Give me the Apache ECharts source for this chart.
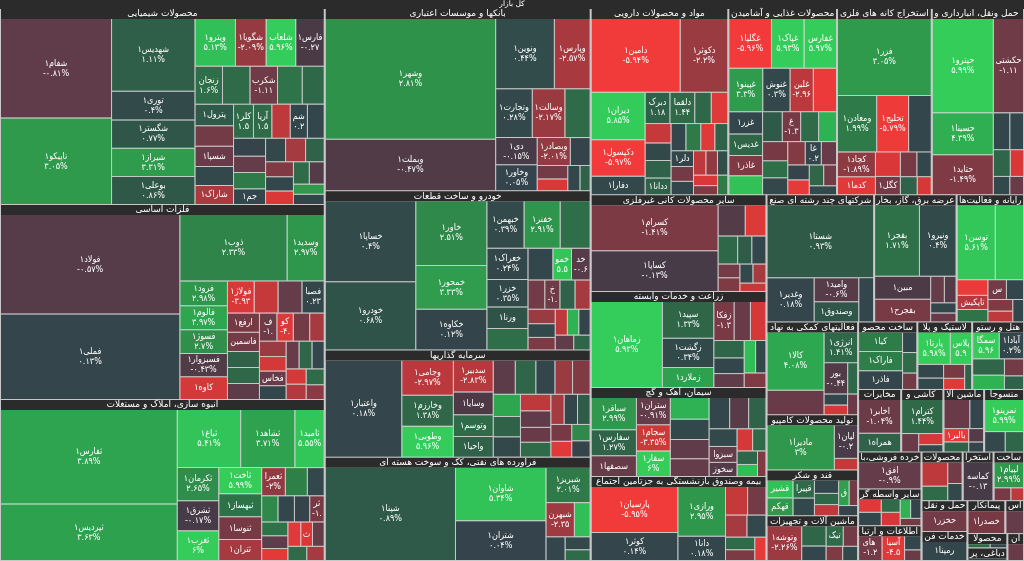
<!DOCTYPE html>
<html lang="fa">
<head>
<meta charset="utf-8">
<title>نقشه بازار</title>
<script src="https://cdn.jsdelivr.net/npm/echarts/dist/echarts.min.js"></script>
<style>
  html, body { margin: 0; padding: 0; background: #c8c8c8; }
  #chart { width: 1024px; height: 561px; }
</style>
</head>
<body>
<div id="chart"></div>
<script>
// [نماد, اندازه, درصد تغییر] - اندازه ها از روی تصویر تخمین زده شده
var chemicals = [
  ['شفام۱', 10584, -0.81], ['تاپیکو۱', 9180, 3.05], ['شهدیس۱', 5800, 1.11], ['توری۱', 2300, 0.4],
  ['شگستر۱', 2260, 0.77], ['شیراز۱', 2250, 3.31], ['بوعلی۱', 2240, 0.86], ['ویترو۱', 1845, 5.13],
  ['شگویا۱', 1400, -2.09], ['شلعاب۱', 1350, 5.96], ['فارس۱', 1300, -0.27], ['شکربن۱', 1000, -1.11],
  ['', 1000, 1.5], ['زنجان۱', 1000, 1.6], ['', 900, 1.8], ['پترول۱', 800, 0.9], ['', 800, 1.4],
  ['شسپا۱', 750, -1.0], ['', 750, -1.2], ['شاراک۱', 700, -2.6], ['', 700, 0.3], ['کلر۱', 650, 1.5],
  ['', 600, -3], ['آریا۱', 600, 1.5], ['شمواد۱', 560, 0.2], ['', 550, 0.1], ['', 550, 0.2],
  ['', 500, 2], ['', 500, -0.9], ['جم۱', 480, 0.2], ['', 450, -2.5], ['', 450, 0.3], ['', 420, 1.2],
  ['', 400, -1.5], ['', 380, 0.2], ['', 360, -4], ['', 340, 1.5], ['', 320, -0.5], ['', 300, 0.1],
  ['', 300, 3]
];
var metals = [
  ['فولاد۱', 17444, -0.57], ['فملی۱', 14952, 0.13], ['ذوب۱', 6955, 2.33], ['وسدید۱', 2405, 2.97],
  ['فرود۱', 1150, 2.98], ['فالوم۱', 1120, 3.97], ['فسوژ۱', 1100, 2.7], ['فسبزوار۱', 1080, -0.43],
  ['کاوه۱', 1060, -3.6], ['فولاژ۱', 841, -3.93], ['فاسمین۱', 600, -1.2], ['ارفع۱', 600, -1.3],
  ['فسپا۱', 480, -1.1], ['فخاس۱', 380, -1.0], ['', 360, 0.2], ['', 750, -0.9], ['', 750, -3.2],
  ['فصبا۱', 700, 0.23], ['', 500, -0.7], ['', 500, 1.4], ['', 500, 1.2], ['', 450, -1.2],
  ['کویر۱', 450, -4.2], ['', 400, -2.2], ['', 400, -2.5], ['', 380, -3.5], ['', 350, 1.3],
  ['', 350, -1.0], ['', 330, 0.2], ['', 300, -2.8], ['', 300, -3.5], ['', 280, 1.5], ['', 260, -1.8]
];
var realEstate = [
  ['ثفارس۱', 17500, 3.89], ['ثپردیس۱', 10500, 3.63], ['ثباغ۱', 3864, 5.41], ['ثشاهد۱', 3304, 3.71],
  ['ثامید۱', 1792, 5.55], ['ثکرمان۱', 1440, 2.65], ['ثشرق۱', 1305, -0.17], ['ثغرب۱', 1300, 6],
  ['ثاخت۱', 1175, 5.99], ['ثبهساز۱', 1034, 1.72], ['ثنوسا۱', 1030, -1.3], ['ثتران۱', 940, -2.5],
  ['ثعمرا۱', 700, -2.0], ['', 650, 2.2], ['', 500, 0.3], ['', 450, 0.2], ['', 450, 2.5],
  ['', 420, 0.1], ['ثرود۱', 400, -1.3], ['', 380, 1.8], ['', 350, -0.8], ['', 330, -4.5],
  ['', 330, -4.8], ['', 300, -0.9], ['ثتوسا۱', 300, -4], ['', 280, 1.5], ['', 260, -2.5]
];
var banks = [
  ['وشهر۱', 20040, 2.81], ['وبملت۱', 8517, -0.47], ['ونوین۱', 4012, 0.44], ['وپارس۱', 2448, -2.57],
  ['وتجارت۱', 1739, 0.28], ['وسالت۱', 1551, -2.17], ['', 1200, 1.5], ['دی۱', 1100, -0.15],
  ['وخاور۱', 1050, 0.05], ['وبصادر۱', 900, -2.01], ['', 540, 0.1], ['', 400, -1.2], ['', 350, -4.0],
  ['', 300, 0.2], ['', 250, 1.2]
];
var autos = [
  ['خساپا۱', 7462, 0.4], ['خودرو۱', 6279, 0.68], ['خاور۱', 4680, 2.51], ['خمحور۱', 3168, 3.33],
  ['خکاوه۱', 2952, 0.12], ['خبهمن۱', 1800, 0.39], ['خفنر۱', 1750, 2.91], ['', 1450, 1.6],
  ['خعراک۱', 1300, 0.24], ['خزر۱', 1150, 0.35], ['', 900, 1.6], ['ورنا۱', 900, 0.69], ['', 800, 0.2],
  ['خدیزل۱', 600, -0.6], ['خموتور۱', 600, 5.5], ['', 500, -1.2], ['', 450, -2.5], ['', 450, 1.2],
  ['خشرق۱', 450, -1.1], ['', 400, -2.2], ['', 380, 0.3], ['', 350, -1.4], ['', 320, -3.0],
  ['', 300, 0.1], ['', 300, 4.5], ['', 280, -0.8], ['', 250, 1.3]
];
var investments = [
  ['واعتبار۱', 7392, 0.18], ['وجامی۱', 1802, -2.97], ['وخارزم۱', 1600, 1.38], ['وطوبی۱', 1580, 5.96],
  ['سدبیر۱', 1271, -2.83], ['وسایا۱', 902, -0.39], ['وتوسم۱', 861, 1.5], ['واحیا۱', 820, 1.2],
  ['', 750, -0.7], ['', 700, 1.3], ['', 650, 0.2], ['', 600, 4.0], ['', 600, -1.5], ['', 600, -2.2],
  ['', 550, 0.3], ['', 550, 1.2], ['', 500, -0.8], ['', 500, -3], ['', 450, 1.5], ['', 450, -1.0],
  ['', 400, 0.2], ['', 400, -2.5], ['', 380, 1.0], ['', 350, -1.3], ['', 330, -4.5], ['', 300, 0.1],
  ['', 300, 2.5]
];
var petroleum = [
  ['شپنا۱', 11264, 0.89], ['شاوان۱', 4500, 5.34], ['شتران۱', 3330, 0.04], ['شبریز۱', 1452, 2.01],
  ['شبهرن۱', 900, -2.35], ['', 500, 5.0], ['', 420, 0.2], ['', 300, 0.3], ['', 250, 1.5]
];
var pharma = [
  ['دامین۱', 6512, -5.94], ['دکوثر۱', 3478, -2.2], ['دیران۱', 2538, 5.85], ['دکپسول۱', 1944, -5.97],
  ['دفارا۱', 1000, 0.3], ['دلقما۱', 768, 1.44], ['دبرکت۱', 768, 1.18], ['', 512, -4.5], ['', 512, 1.4],
  ['ددانا۱', 432, 1.2], ['', 400, 2.0], ['دلر۱', 350, 0.2], ['', 500, -3.2], ['', 450, 1.2],
  ['', 450, 0.3], ['', 400, 0.2], ['', 380, -4.5], ['', 350, 1.2], ['', 330, -1.2], ['', 300, -3],
  ['', 300, 0.2], ['', 280, -2], ['', 250, -4], ['', 250, 0.5], ['', 220, -1.5], ['', 200, 2]
];
var food = [
  ['غگلپا۱', 1974, -5.96], ['غپاک۱', 1510, 5.93], ['غفارس۱', 1500, 5.97], ['غپینو۱', 1376, 3.3],
  ['غنوش۱', 1107, 0.3], ['غلبن۱', 943, -2.96], ['', 940, -5.5], ['غزر۱', 704, 0.21],
  ['غدیس۱', 672, 1.33], ['غاذر۱', 640, -1.5], ['', 600, 5.2], ['', 550, 0.9], ['غشوکو۱', 512, -1.3],
  ['', 500, 4.5], ['', 500, 1.5], ['', 450, -1.3], ['', 400, 0.3], ['', 400, 1.6], ['', 380, -1.6],
  ['غالبر۱', 350, 0.2], ['', 330, -1.0], ['', 300, -5], ['', 300, 0.1], ['', 280, 1.3],
  ['', 250, -1.2], ['', 230, 0.3]
];
var mining = [
  ['فزر۱', 7068, 3.05], ['ومعادن۱', 2166, 1.99], ['تحلیج۱', 1767, -5.79], ['', 1254, 0.2],
  ['کچاد۱', 924, -1.89], ['کدما۱', 672, -4.5], ['', 600, -4.0], ['کگل۱', 450, -1.2], ['', 400, -1.3],
  ['', 350, 0.2], ['', 300, 1.2], ['', 250, -3.5]
];
var transport = [
  ['حپترو۱', 5704, 5.99], ['حکشتی۱', 2813, -1.11], ['حسینا۱', 2542, 4.39], ['حتاید۱', 2418, -1.49],
  ['', 600, 0.2], ['', 500, 0.2], ['', 450, 1.3], ['', 350, -4.0], ['', 300, 0.3], ['', 250, -1.0]
];
var nonMetal = [
  ['کسرام۱', 5850, -1.41], ['کساپا۱', 5200, -0.13], ['', 850, -0.5], ['', 650, -4.2], ['', 550, 1.4],
  ['', 400, 0.2], ['', 400, 1.0], ['', 300, -1.5], ['', 300, -1.2], ['', 250, -2.5], ['', 250, 0.3],
  ['', 220, -3.2]
];
var agriculture = [
  ['زماهان۱', 5796, 5.93], ['سپید۱', 1785, 1.33], ['زگشت۱', 1428, 0.34], ['زملارد۱', 969, 3.62],
  ['زفکا۱', 750, -1.35], ['', 600, -1.0], ['', 575, -3.5], ['', 500, 1.3], ['', 450, 0.2],
  ['', 400, -0.8], ['', 350, 5.0], ['', 320, 0.3], ['', 300, -1.5]
];
var cement = [
  ['سباقر۱', 1472, 2.99], ['سفارس۱', 1196, 1.27], ['سصفها۱', 950, -0.93], ['ستران۱', 930, -0.91],
  ['سجام۱', 900, -3.35], ['سفار۱', 880, 6], ['', 850, 4.5], ['', 800, 0.3], ['', 750, -0.8],
  ['', 700, -0.9], ['', 650, 0.2], ['', 600, -0.6], ['', 550, 1.2], ['', 500, 0.3], ['سبزوا۱', 450, -0.9],
  ['سخوز۱', 400, -0.5], ['', 350, -3.5], ['', 300, 1.5], ['', 280, 1.3], ['', 250, 5], ['', 220, -1.5]
];
var insurance = [
  ['پارسیان۱', 3800, -5.95], ['کوثر۱', 2300, 0.14], ['ورازی۱', 2250, 2.95], ['دانا۱', 1100, 0.18],
  ['', 600, -3.2], ['', 500, -1.2], ['', 450, -2.5], ['', 400, 0.3], ['', 350, 1.5], ['', 300, -1.4],
  ['', 250, -5]
];
var multiIndustry = [
  ['شستا۱', 7420, 0.93], ['وغدیر۱', 2000, 0.18], ['وامید۱', 1032, -0.6], ['وصندوق۱', 860, 0.8],
  ['', 630, 0.2]
];
var utilities = [
  ['بفجر۱', 3080, 1.71], ['ونیرو۱', 2520, 0.4], ['بفجرح۱', 1232, -1.31], ['مبین۱', 1232, -0.37],
  ['', 350, -0.9], ['', 300, -0.5], ['', 250, 0.2], ['', 220, -1.0]
];
var computer = [
  ['توسن۱', 2964, 5.61], ['', 2184, 5.5], ['', 500, -5.5], ['تاپکیش۱', 450, -2.9], ['مفاخر۱', 400, 1.8],
  ['سپیدار۱', 380, -1.2], ['', 350, 0.2], ['', 300, -1.5], ['', 280, -3.0], ['', 250, 0.2]
];
var auxiliary = [
  ['کالا۱', 3200, 4.08], ['', 1350, -1.0], ['انرژی۱', 992, 1.41], ['بورس۱', 713, -0.44],
  ['', 300, 1.4], ['', 250, 0.2], ['', 220, -3.5], ['', 200, -1.0]
];
var electronics = [['مادیرا۱', 2829, 3], ['لپان۱', 726, -0.2], ['', 250, -3.2]];
var sugar = [
  ['قشیر۱', 432, 5.2], ['قهکمت۱', 430, 3.0], ['قپیرا۱', 360, 1.5], ['', 350, 0.3], ['', 300, 0.2],
  ['قمرو۱', 250, 3.5], ['قشرین۱', 250, -3.0], ['', 250, 1.4], ['', 200, -1.2], ['', 180, 0.1]
];
var machinery = [
  ['وتوشه۱', 1024, -2.26], ['', 420, 1.3], ['تیکو۱', 300, 1.5], ['', 300, 0.2], ['', 250, -1.2],
  ['', 200, -1.5], ['', 180, 0.3]
];
var metalProducts = [
  ['کیا۱', 730, 2.05], ['فاراک۱', 720, 2.13], ['فاذر۱', 700, 0.18], ['', 250, 1.5], ['', 250, 0.2],
  ['', 200, -1.2]
];
var rubber = [
  ['پارتا۱', 900, 5.98], ['پلاسک۱', 590, 5.9], ['', 300, 0.2], ['', 250, -1.3], ['', 250, 0.3],
  ['', 200, -4.5], ['', 150, 1.2]
];
var hotels = [
  ['سمگا۱', 550, 5.96], ['آبادا۱', 500, 0.2], ['', 400, 1.3], ['', 350, 4.5], ['', 250, -1.2],
  ['', 200, 1.2]
];
var telecom = [['اخابر۱', 1428, -1.04], ['همراه۱', 800, 1.2]];
var tiles = [['کترام۱', 1560, 1.44], ['', 350, -1.0], ['', 300, -3.5], ['', 200, 0.3]];
var electrical = [
  ['', 750, -1.0], ['', 400, 0.2], ['بالبر۱', 330, -5.0], ['', 250, 1.2], ['', 200, -0.5], ['', 150, 0.1]
];
var textiles = [['نمرینو۱', 1332, 5.99], ['', 450, 0.3], ['', 400, 1.3]];
var retail = [['افق۱', 1380, -0.9]];
var otherFinance = [
  ['', 300, 0.2], ['', 300, -4.5], ['', 250, -3.5], ['', 250, 1.5], ['', 200, 0.1], ['', 200, 4.5],
  ['', 150, -1.2]
];
var infoTech = [['های وب۱', 500, -1.2], ['آسیاتک۱', 480, -4.5], ['', 200, 0.2], ['', 150, -1.0]];
var paper = [['', 500, -3.0], ['', 300, 1.5], ['', 250, -1.2], ['', 200, 0.3]];
var otherMining = [['کماسه۱', 900, -0.13]];
var commDevices = [['لپیام۱', 700, 2.99], ['', 200, -1.3], ['', 150, -3]];
var waterTransport = [['حخزر۱', 800, -1.2]];
var engineering = [['رمپنا۱', 700, 0.2]];
var contracting = [['خصدرا۱', 700, -1.3]];
var coal = [['', 300, -0.9]];
var leather = [['', 200, 1.5], ['', 150, 0.2]];
var tannery = [['', 250, 0.2]];
var publishing = [['', 200, -1.0]];

var sectorNames = [
  'محصولات شیمیایی', 'فلزات اساسی', 'انبوه سازی، املاک و مستغلات', 'بانکها و موسسات اعتباری',
  'خودرو و ساخت قطعات', 'سرمایه گذاریها', 'فراورده های نفتی، کک و سوخت هسته ای', 'مواد و محصولات دارویی',
  'محصولات غذایی و آشامیدنی به جز قند و شکر', 'استخراج کانه های فلزی', 'حمل ونقل، انبارداری و ارتباطات',
  'سایر محصولات کانی غیرفلزی', 'زراعت و خدمات وابسته', 'سیمان، آهک و گچ',
  'بیمه وصندوق بازنشستگی به جزتامین اجتماعی', 'شرکتهای چند رشته ای صنعتی', 'عرضه برق، گاز، بخار و آب گرم',
  'رایانه و فعالیت‌های وابسته به آن', 'فعالیتهای کمکی به نهادهای مالی واسط', 'تولید محصولات کامپیوتری الکترونیکی ونوری',
  'قند و شکر', 'ماشین آلات و تجهیزات', 'ساخت محصولات فلزی', 'لاستیک و پلاستیک', 'هتل و رستوران',
  'مخابرات', 'کاشی و سرامیک', 'ماشین آلات و دستگاه‌های برقی', 'منسوجات',
  'خرده فروشی،باستثنای وسایل نقلیه موتوری', 'سایر واسطه گریهای مالی', 'اطلاعات و ارتباطات',
  'محصولات کاغذی', 'استخراج سایر معادن', 'ساخت دستگاه‌ها و وسایل ارتباطی', 'حمل و نقل آبی',
  'خدمات فنی و مهندسی', 'پیمانکاری صنعتی', 'استخراج ذغال سنگ', 'محصولات چرمی', 'دباغی، پرداخت چرم', 'انتشار، چاپ و تکثیر'
];
var sectorSizes = [
  63700, 63375, 52325, 48495, 42400, 28500, 27500, 25668, 20274, 17670, 17200,
  17000, 16900, 15664, 14774, 13696, 10496, 8576, 8500, 5060,
  4200, 4100, 4000, 3700, 3500, 2700, 2650, 2550, 2500,
  2340, 2330, 2210, 2000, 1500, 1480, 1420, 1330, 1250, 616, 570, 504, 448
];
var sectorStocks = [
  chemicals, metals, realEstate, banks, autos, investments, petroleum, pharma, food, mining, transport,
  nonMetal, agriculture, cement, insurance, multiIndustry, utilities, computer, auxiliary, electronics,
  sugar, machinery, metalProducts, rubber, hotels, telecom, tiles, electrical, textiles,
  retail, otherFinance, infoTech, paper, otherMining, commDevices, waterTransport, engineering, contracting,
  coal, leather, tannery, publishing
];

var colorStops = [
  [-6, [242, 58, 58]], [-3.5, [212, 56, 56]], [-2.5, [165, 58, 64]], [-1.4, [124, 58, 68]],
  [-0.8, [96, 60, 74]], [-0.3, [74, 58, 70]], [-0.01, [70, 60, 74]], [0, [54, 66, 76]],
  [0.3, [50, 72, 74]], [1, [47, 92, 72]], [2, [46, 122, 72]], [3, [47, 152, 76]],
  [4, [46, 166, 80]], [5, [48, 190, 86]], [6, [52, 205, 90]]
];

function changeColor(v) {
  if (v <= colorStops[0][0]) return 'rgb(' + colorStops[0][1].join(',') + ')';
  for (var i = 1; i < colorStops.length; i++) {
    if (v <= colorStops[i][0]) {
      var a = colorStops[i - 1], b = colorStops[i];
      var t = (v - a[0]) / (b[0] - a[0]);
      var c = a[1].map(function (x, k) { return Math.round(x + (b[1][k] - x) * t); });
      return 'rgb(' + c.join(',') + ')';
    }
  }
  return 'rgb(' + colorStops[colorStops.length - 1][1].join(',') + ')';
}

function toFa(s) {
  return String(s).replace(/[0-9]/g, function (d) { return '۰۱۲۳۴۵۶۷۸۹'[d]; });
}
function pctText(v) {
  return (v < 0 ? '-' : '') + toFa(Math.abs(v)) + '%';
}

var sectorNodes = sectorNames.map(function (name, i) {
  var stocks = sectorStocks[i];
  var total = stocks.reduce(function (s, r) { return s + r[1]; }, 0);
  return {
    name: name,
    value: sectorSizes[i],
    children: stocks.map(function (r) {
      return {
        name: r[0],
        value: r[1] / total * sectorSizes[i],
        change: r[2],
        itemStyle: { color: changeColor(r[2]) },
        label: { show: r[0] !== '' }
      };
    })
  };
});

// echarts' own truncation guesses arabic glyphs as full-width, so measure the real width here
var headFont = '9px "DejaVu Sans"';
var leafFont = '9px "DejaVu Sans Condensed", "DejaVu Sans"';
var measureCtx = document.createElement('canvas').getContext('2d');
function textWidth(text, font) {
  measureCtx.font = font;
  return measureCtx.measureText(text).width;
}
function fitText(text, width, font) {
  var s = text;
  while (s.length > 0 && textWidth(s, font) > width) s = s.slice(0, -1);
  return s;
}
function nodeLayout(dataIndex) {
  var series = chart.getModel().getSeriesByIndex(0);
  return series ? series.getData().getItemLayout(dataIndex) : null;
}

var headerLabel = {
  show: true,
  padding: 0,
  position: ['50%', '50%'],
  align: 'center',
  verticalAlign: 'middle',
  backgroundColor: '#2b2b2b',
  color: '#fff',
  fontFamily: 'DejaVu Sans',
  overflow: 'truncate',
  ellipsis: ''
};

var chart = echarts.init(document.getElementById('chart'));

var option = {
  animation: false,
  series: [{
    type: 'treemap',
    left: 0, top: 0, right: 0, bottom: 0,
    width: '100%', height: '100%',
    roam: false,
    nodeClick: false,
    breadcrumb: { show: false },
    emphasis: { disabled: true },
    label: {
      show: true,
      position: 'inside',
      padding: 1,
      color: '#fff',
      fontFamily: '"DejaVu Sans Condensed", "DejaVu Sans"',
      fontSize: 9,
      lineHeight: 10,
      overflow: 'truncate',
      lineOverflow: 'truncate',
      ellipsis: '',
      formatter: function (p) {
        if (!p.data.name) return '';
        var name = p.data.name;
        var full = pctText(p.data.change);
        var pct = full;
        var lay = nodeLayout(p.dataIndex);
        if (lay) {
          name = fitText(name, lay.width - 3, leafFont);
          pct = fitText(full, lay.width - 3, leafFont);
          if (pct.length < Math.min(3, full.length)) return name;
        }
        return name + '\n' + pct;
      }
    },
    levels: [
      { itemStyle: { borderWidth: 0, gapWidth: 0, borderColor: '#c8c8c8' }, upperLabel: { show: false } },
      {
        itemStyle: { borderWidth: 0, gapWidth: 0, borderColor: '#c8c8c8' },
        upperLabel: Object.assign({}, headerLabel, { height: 9, fontSize: 7.5 })
      },
      {
        itemStyle: { borderWidth: 1, gapWidth: 1, borderColor: '#c8c8c8' },
        upperLabel: Object.assign({}, headerLabel, {
          height: 10,
          fontSize: 9,
          formatter: function (p) {
            var lay = nodeLayout(p.dataIndex);
            return lay ? fitText(p.name, lay.width - 4, headFont) : p.name;
          }
        })
      },
      { itemStyle: { borderWidth: 0 } }
    ],
    data: [{ name: 'کل بازار', children: sectorNodes }]
  }]
};

chart.setOption(option);
window.addEventListener('resize', function () { chart.resize(); });
</script>
</body>
</html>
